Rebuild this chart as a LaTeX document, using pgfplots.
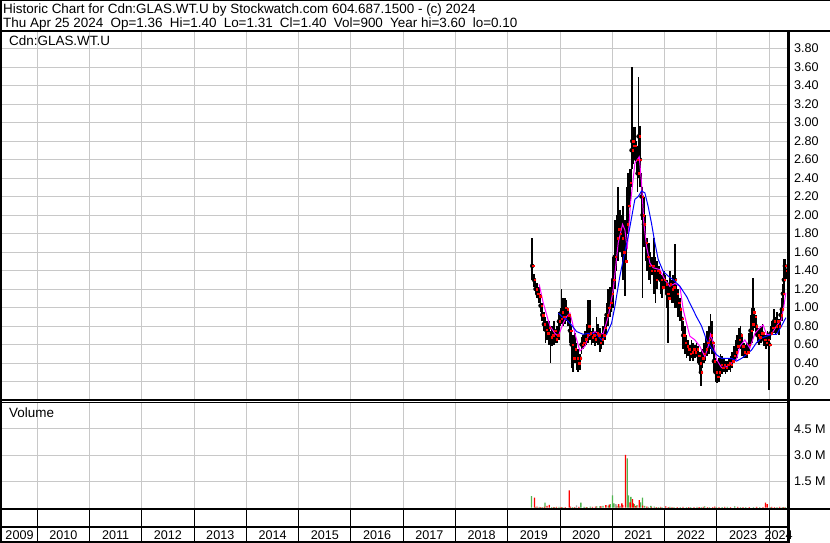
\documentclass[border=0pt]{standalone}
\usepackage{fontspec}
\setmainfont{Liberation Sans}
\usepackage{pgfplots}
\usepackage{pgfplotstable}
\pgfplotsset{compat=1.18}
\definecolor{gridgray}{RGB}{200,200,200}
\definecolor{volgreen}{RGB}{80,180,80}
\definecolor{volred}{RGB}{255,0,0}
\definecolor{volgray}{RGB}{165,165,165}
\definecolor{magma}{RGB}{255,0,255}
\definecolor{mablue}{RGB}{0,0,255}

\pgfplotstableread{
t l h c
2019.467 1.30 1.75 1.45
2019.499 1.22 1.36 1.30
2019.531 1.15 1.30 1.20
2019.563 1.10 1.27 1.15
2019.595 1.05 1.22 1.12
2019.627 0.95 1.15 1.02
2019.659 0.85 1.05 0.92
2019.690 0.75 0.95 0.82
2019.722 0.62 0.90 0.76
2019.754 0.65 0.85 0.72
2019.786 0.60 0.85 0.78
2019.818 0.40 0.75 0.68
2019.850 0.58 0.80 0.70
2019.882 0.60 0.85 0.75
2019.914 0.62 0.76 0.66
2019.945 0.62 0.80 0.70
2019.977 0.65 0.95 0.85
2020.009 0.80 1.00 0.88
2020.028 0.82 1.20 0.95
2020.060 0.80 1.10 0.90
2020.092 0.82 1.10 1.00
2020.124 0.85 1.08 0.98
2020.156 0.80 1.00 0.92
2020.188 0.62 0.90 0.75
2020.220 0.35 0.80 0.60
2020.251 0.30 0.70 0.45
2020.283 0.40 0.72 0.55
2020.315 0.32 0.62 0.45
2020.347 0.30 0.55 0.40
2020.379 0.32 0.50 0.45
2020.411 0.50 0.68 0.60
2020.443 0.55 0.70 0.62
2020.475 0.58 0.75 0.66
2020.506 0.60 0.82 0.70
2020.538 0.62 1.08 0.80
2020.570 0.65 1.08 0.72
2020.602 0.60 0.75 0.68
2020.634 0.62 0.78 0.70
2020.666 0.58 0.74 0.66
2020.698 0.62 0.90 0.72
2020.730 0.60 0.82 0.70
2020.761 0.52 0.78 0.62
2020.793 0.55 0.72 0.66
2020.825 0.60 0.80 0.70
2020.857 0.65 0.90 0.78
2020.889 0.70 1.05 0.92
2020.921 0.80 1.20 1.00
2020.953 0.90 1.22 1.05
2020.985 0.95 1.30 1.15
2021.016 1.00 1.55 1.30
2021.048 1.20 1.95 1.55
2021.080 1.40 2.00 1.75
2021.112 1.50 2.30 1.85
2021.144 1.60 2.05 1.80
2021.176 1.55 2.00 1.75
2021.208 1.30 2.10 1.60
2021.240 1.12 1.95 1.50
2021.271 1.50 2.30 1.90
2021.303 1.80 2.45 2.10
2021.335 2.10 2.50 2.35
2021.367 2.30 3.00 2.70
2021.380 2.50 3.60 2.80
2021.399 2.55 2.95 2.75
2021.431 2.60 2.95 2.75
2021.463 2.45 2.80 2.60
2021.482 2.25 2.75 2.45
2021.501 2.40 3.49 2.85
2021.526 2.30 2.96 2.60
2021.558 1.95 2.45 2.20
2021.577 1.10 2.30 2.00
2021.603 1.65 2.20 1.90
2021.635 1.50 2.00 1.70
2021.667 1.40 1.75 1.55
2021.698 1.30 1.70 1.45
2021.730 1.25 1.60 1.40
2021.762 1.35 1.55 1.45
2021.794 1.15 1.75 1.40
2021.826 1.05 1.55 1.30
2021.858 1.20 1.50 1.40
2021.890 1.30 1.45 1.38
2021.922 1.15 1.40 1.30
2021.953 1.10 1.35 1.22
2021.985 1.20 1.40 1.30
2022.017 1.15 1.35 1.25
2022.049 1.00 1.30 1.15
2022.068 0.62 1.25 1.10
2022.100 1.10 1.40 1.25
2022.132 1.05 1.30 1.20
2022.164 1.05 1.35 1.22
2022.196 1.00 1.69 1.30
2022.228 1.00 1.25 1.15
2022.260 0.90 1.20 1.05
2022.291 0.85 1.10 0.98
2022.323 0.75 1.00 0.88
2022.355 0.55 0.85 0.70
2022.387 0.50 0.80 0.62
2022.419 0.45 0.70 0.58
2022.451 0.48 0.65 0.55
2022.483 0.42 0.60 0.50
2022.515 0.45 0.65 0.52
2022.546 0.42 0.62 0.55
2022.578 0.45 0.60 0.52
2022.610 0.48 0.62 0.55
2022.642 0.40 0.58 0.48
2022.674 0.30 0.52 0.40
2022.693 0.15 0.40 0.30
2022.718 0.35 0.55 0.45
2022.750 0.40 0.62 0.50
2022.782 0.42 0.68 0.55
2022.814 0.48 0.75 0.62
2022.846 0.50 0.80 0.65
2022.878 0.55 0.93 0.70
2022.910 0.50 0.85 0.62
2022.942 0.30 0.60 0.42
2022.973 0.20 0.45 0.30
2023.005 0.18 0.42 0.25
2023.037 0.20 0.45 0.30
2023.069 0.25 0.50 0.38
2023.101 0.28 0.48 0.35
2023.133 0.30 0.45 0.38
2023.165 0.28 0.42 0.35
2023.197 0.30 0.42 0.38
2023.228 0.32 0.45 0.40
2023.260 0.30 0.48 0.38
2023.292 0.35 0.52 0.42
2023.324 0.40 0.58 0.48
2023.356 0.42 0.65 0.52
2023.388 0.45 0.70 0.58
2023.420 0.55 0.78 0.65
2023.452 0.55 0.80 0.70
2023.483 0.48 0.68 0.58
2023.515 0.45 0.62 0.52
2023.547 0.45 0.60 0.50
2023.579 0.45 0.62 0.52
2023.611 0.50 0.72 0.60
2023.643 0.60 0.92 0.75
2023.675 0.62 1.00 0.82
2023.694 0.75 1.32 0.95
2023.719 0.78 1.00 0.90
2023.745 0.70 0.92 0.80
2023.777 0.62 0.80 0.70
2023.809 0.60 0.78 0.68
2023.840 0.62 0.80 0.72
2023.872 0.65 0.82 0.72
2023.904 0.58 0.72 0.65
2023.936 0.55 0.70 0.62
2023.968 0.58 0.75 0.65
2024.000 0.11 0.72 0.60
2024.025 0.65 0.80 0.72
2024.057 0.70 0.85 0.78
2024.089 0.72 0.98 0.85
2024.121 0.70 0.90 0.80
2024.153 0.72 0.95 0.85
2024.185 0.70 0.88 0.80
2024.217 0.78 1.00 0.92
2024.242 0.85 1.10 0.98
2024.261 1.00 1.25 1.15
2024.280 1.15 1.52 1.30
2024.299 1.30 1.52 1.45
2024.319 1.31 1.40 1.40
}\pricedata

\pgfplotstableread{
t v
2019.601 1.25
2019.678 1.05
2019.805 0.80
2019.901 0.72
2019.965 0.69
2020.060 0.83
2020.124 0.90
2020.188 0.94
2020.239 0.83
2020.283 0.72
2020.379 0.53
2020.475 0.58
2020.538 0.69
2020.666 0.74
2020.761 0.71
2020.825 0.72
2020.921 0.90
2021.016 1.19
2021.112 1.70
2021.195 1.90
2021.240 1.84
2021.284 1.63
2021.348 2.13
2021.431 2.56
2021.514 2.63
2021.558 2.35
2021.603 1.91
2021.654 1.66
2021.718 1.48
2021.781 1.43
2021.909 1.41
2022.004 1.30
2022.100 1.23
2022.196 1.26
2022.291 1.23
2022.355 0.98
2022.419 0.83
2022.483 0.69
2022.578 0.65
2022.674 0.58
2022.770 0.47
2022.833 0.58
2022.878 0.71
2022.929 0.62
2022.993 0.44
2023.088 0.35
2023.184 0.36
2023.279 0.40
2023.375 0.44
2023.439 0.58
2023.534 0.65
2023.630 0.56
2023.726 0.72
2023.821 0.78
2023.885 0.81
2023.949 0.71
2024.044 0.71
2024.140 0.80
2024.236 0.87
2024.280 1.01
2024.319 1.16
}\mashort

\pgfplotstableread{
t v
2019.965 0.94
2020.060 0.89
2020.124 0.87
2020.220 0.81
2020.315 0.74
2020.443 0.71
2020.538 0.72
2020.634 0.72
2020.730 0.69
2020.793 0.65
2020.889 0.71
2020.985 0.83
2021.048 1.01
2021.144 1.34
2021.220 1.55
2021.303 1.77
2021.367 1.97
2021.431 2.17
2021.495 2.20
2021.558 2.26
2021.622 2.24
2021.686 2.09
2021.749 1.91
2021.813 1.70
2021.877 1.52
2021.973 1.39
2022.068 1.34
2022.164 1.30
2022.291 1.23
2022.419 1.12
2022.515 1.01
2022.610 0.90
2022.706 0.80
2022.801 0.65
2022.897 0.56
2022.993 0.49
2023.088 0.45
2023.184 0.45
2023.279 0.45
2023.375 0.42
2023.471 0.45
2023.566 0.49
2023.662 0.54
2023.758 0.62
2023.853 0.67
2023.949 0.69
2024.044 0.71
2024.140 0.71
2024.236 0.80
2024.319 0.89
}\malong

\pgfplotsset{
  panel/.style={
    scale only axis, width=786pt,
    xmin=2009.325, xmax=2024.36,
    axis line style={draw=none},
    major tick length=0pt, minor tick length=0pt,
    xtick={2010,2011,...,2024}, xticklabels={},
    xmajorgrids, ymajorgrids,
    grid style={gridgray, line width=1pt},
    /pgf/number format/assume math mode=true,
    tick label style={font=\fontsize{12.6}{13}\selectfont},
    yticklabel pos=right,
    yticklabel style={anchor=west, inner sep=0pt, xshift=6pt},
  },
  vbar/.style={ybar, bar width=1.3pt, bar shift=0pt, draw=none, fill=#1},
}

\begin{document}
\begin{tikzpicture}[x=1pt,y=1pt]
\path[use as bounding box] (0,0) rectangle (830,543);

% price panel: grid and high-low bars
\begin{axis}[panel, at={(2pt,143pt)}, anchor=south west, height=369pt,
  ymin=0, ymax=3.99,
  ytick={0.2,0.4,0.6,0.8,1.0,1.2,1.4,1.6,1.8,2.0,2.2,2.4,2.6,2.8,3.0,3.2,3.4,3.6,3.8},
  yticklabel style={/pgf/number format/fixed, /pgf/number format/fixed zerofill, /pgf/number format/precision=2}]
\addplot[only marks, mark=none,
  error bars/.cd, y dir=both, y explicit, error mark=none,
  error bar style={solid, black, line width=1.5pt}]
  table[x=t, y=c, y error plus expr=\thisrow{h}-\thisrow{c}, y error minus expr=\thisrow{c}-\thisrow{l}] {\pricedata};
\end{axis}

% price panel overlay: closes and moving averages
\begin{axis}[scale only axis, width=786pt, height=369pt, at={(2pt,143pt)}, anchor=south west,
  xmin=2009.325, xmax=2024.36, ymin=0, ymax=3.99, hide axis]
\addplot[only marks, red, mark=square*, mark size=0.8pt,
  mark options={draw=none, fill=red, xshift=1pt}]
  table[x=t, y=c] {\pricedata};
\addplot[magma, line width=1pt] table[x=t, y=v] {\mashort};
\addplot[mablue, line width=1pt] table[x=t, y=v] {\malong};
\end{axis}

% volume panel
\begin{axis}[panel, at={(2pt,33.5pt)}, anchor=south west, height=107.5pt,
  ymin=-0.1, ymax=6.03,
  ytick={1.5,3,4.5}, yticklabels={1.5 M,3.0 M,4.5 M}]
\addplot[vbar=volgreen] coordinates {
(2019.455,0.66) (2019.710,0.29) (2020.398,0.29) (2020.761,0.08) (2021.004,0.71)
(2021.284,2.82) (2021.309,0.71) (2021.354,0.62) (2021.577,0.57) (2021.737,0.10)
(2022.769,0.08) (2023.343,0.08)
(2019.53,0.05) (2019.60,0.04) (2019.66,0.03) (2019.84,0.04) (2019.90,0.03) (2019.98,0.05)
(2020.05,0.04) (2020.24,0.03) (2020.46,0.05) (2020.52,0.04) (2020.58,0.06) (2020.70,0.08)
(2020.82,0.10) (2020.92,0.12) (2020.96,0.20) (2021.03,0.25) (2021.09,0.10) (2021.14,0.08)
(2021.42,0.20) (2021.47,0.15) (2021.54,0.30) (2021.62,0.10) (2021.69,0.05) (2021.80,0.06)
(2021.88,0.04) (2021.95,0.04) (2022.10,0.05) (2022.18,0.03) (2022.30,0.04) (2022.42,0.03)
(2022.50,0.04) (2022.62,0.05) (2022.70,0.04) (2022.86,0.04) (2022.99,0.03) (2023.10,0.04)
(2023.20,0.05) (2023.45,0.04) (2023.55,0.03) (2023.70,0.04) (2023.82,0.03) (2024.02,0.04)
(2024.15,0.03) (2024.25,0.04) (2024.31,0.03)
};
\addplot[vbar=volred] coordinates {
(2019.512,0.57) (2019.792,0.16) (2020.175,0.99) (2020.876,0.15) (2021.182,0.25)
(2021.252,3.02) (2021.386,0.49) (2021.513,0.44) (2022.023,0.08) (2022.960,0.06)
(2023.930,0.29) (2023.962,0.20)
(2019.56,0.06) (2019.63,0.04) (2019.70,0.05) (2019.75,0.10) (2019.88,0.04) (2019.93,0.05)
(2020.02,0.03) (2020.10,0.04) (2020.20,0.06) (2020.28,0.04) (2020.36,0.05) (2020.50,0.03)
(2020.62,0.05) (2020.68,0.06) (2020.78,0.08) (2020.88,0.15) (2020.94,0.18) (2021.07,0.12)
(2021.12,0.20) (2021.20,0.15) (2021.34,0.30) (2021.40,0.25) (2021.45,0.10) (2021.58,0.12)
(2021.66,0.06) (2021.75,0.05) (2021.84,0.04) (2021.92,0.05) (2022.07,0.04) (2022.14,0.03)
(2022.24,0.04) (2022.35,0.05) (2022.46,0.04) (2022.56,0.03) (2022.66,0.04) (2022.74,0.05)
(2022.82,0.03) (2022.92,0.04) (2023.04,0.04) (2023.15,0.05) (2023.26,0.03) (2023.40,0.05)
(2023.50,0.04) (2023.62,0.03) (2023.76,0.05) (2023.88,0.04) (2024.05,0.05) (2024.10,0.04)
(2024.20,0.05) (2024.28,0.04)
};
\addplot[vbar=volgray] coordinates {
(2020.315,0.13) (2021.067,0.20) (2021.160,0.10) (2019.60,0.05)
};
\end{axis}

% year rows
\begin{axis}[scale only axis, width=786pt, height=32pt, at={(2pt,1.5pt)}, anchor=south west,
  xmin=2009.325, xmax=2024.36, ymin=0, ymax=32,
  axis line style={draw=none}, major tick length=0pt, minor tick length=0pt,
  xtick={2009.66,2010.5,2011.5,2012.5,2013.5,2014.5,2015.5,2016.5,2017.5,2018.5,2019.5,2020.5,2021.5,2022.5,2023.5,2024.18},
  xticklabels={2009,2010,2011,2012,2013,2014,2015,2016,2017,2018,2019,2020,2021,2022,2023,2024},
  minor xtick={2010,2011,...,2024},
  xminorgrids, minor grid style={black, line width=1pt},
  ytick={14.5}, yticklabels={}, ymajorgrids, major grid style={black, line width=2pt},
  xticklabel style={anchor=base, yshift=2.2pt, font=\fontsize{12.6}{13}\selectfont}]
\addplot[draw=none] coordinates {(2010,0)};
\end{axis}

% frame lines
\draw[line width=2pt] (1,0) -- (1,543);
\draw[line width=1.5pt] (0,542.3) -- (830,542.3);
\draw[line width=1.5pt] (0,511.8) -- (830,511.8);
\draw[line width=2.5pt] (788.3,512) -- (788.3,0);
\draw[line width=1.2pt] (0,143) -- (830,143);
\draw[line width=1.2pt] (0,140.5) -- (788,140.5);
\draw[line width=2pt] (0,33.5) -- (830,33.5);
\draw[line width=2pt] (0,1.2) -- (788,1.2);

% texts
\node[anchor=base west, inner sep=0pt, font=\fontsize{13.45}{14}\selectfont] at (3,529.7)
  {Historic Chart for Cdn:GLAS.WT.U by Stockwatch.com 604.687.1500 - (c) 2024};
\node[anchor=base west, inner sep=0pt, font=\fontsize{13.45}{14}\selectfont] at (3,515.7)
  {Thu Apr 25 2024\hspace{3.5pt} Op=1.36\hspace{3.5pt} Hi=1.40\hspace{3.5pt} Lo=1.31\hspace{3.5pt} Cl=1.40\hspace{3.5pt} Vol=900\hspace{3.5pt} Year hi=3.60\hspace{3.5pt} lo=0.10};
\node[anchor=base west, inner sep=0pt, font=\fontsize{13.45}{14}\selectfont] at (9,497.3) {Cdn:GLAS.WT.U};
\node[anchor=base west, inner sep=0pt, font=\fontsize{13.45}{14}\selectfont] at (9,125.3) {Volume};
\end{tikzpicture}
\end{document}
